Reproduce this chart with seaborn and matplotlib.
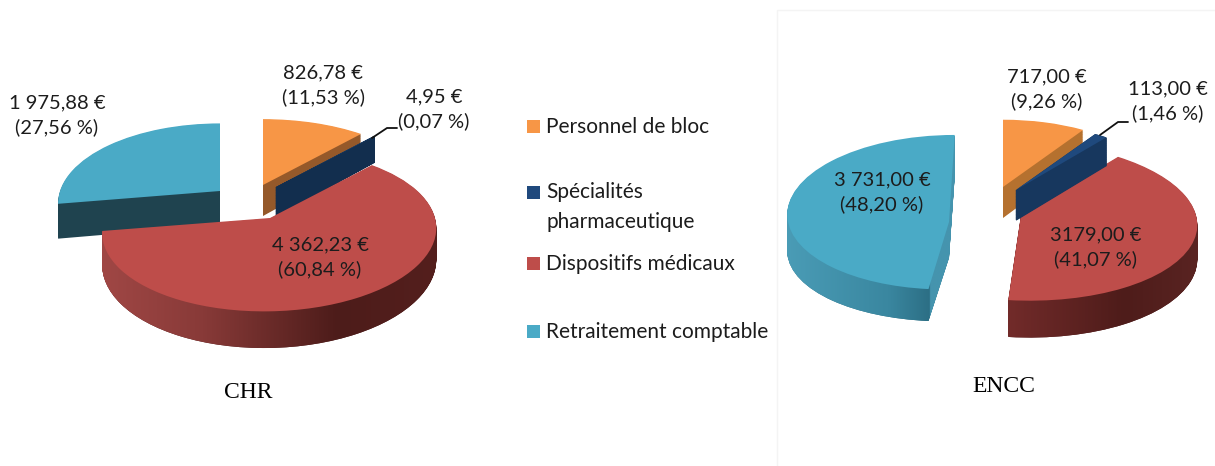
import numpy as np
import matplotlib
matplotlib.use('Agg')
import matplotlib.pyplot as plt
import seaborn as sns
from matplotlib.colors import LinearSegmentedColormap
from matplotlib.patches import Rectangle
from matplotlib.path import Path
from matplotlib.transforms import Affine2D, Transform

categories = ['Personnel de bloc', 'Spécialités\npharmaceutique',
              'Dispositifs médicaux', 'Retraitement comptable']
chr_values = [826.78, 4.95, 4362.23, 1975.88]
encc_values = [717.00, 113.00, 3179.00, 3731.00]
chr_labels = ['826,78 €\n(11,53 %)', '4,95 €\n(0,07 %)',
              '4 362,23 €\n(60,84 %)', '1 975,88 €\n(27,56 %)']
encc_labels = ['717,00 €\n(9,26 %)', '113,00 €\n(1,46 %)',
               '3179,00 €\n(41,07 %)', '3 731,00 €\n(48,20 %)']

sns.set_theme(style='white')
plt.rcParams['font.family'] = ['Lato', 'DejaVu Sans']
top_colors = sns.color_palette(['#f79646', '#1f497d', '#be4d4a', '#4aaac6'])
TEXT = '#1c1c1c'

# how each slice sits on the page: apex in pixels, a/c = half axes,
# b = perspective, s = skew, h = thickness, plus the paint order
chr_layout = {
    'apex': [(263, 185), (276, 187), (270, 218), (220, 191)],
    'a': [165, 165, 165, 160], 'c': [76, 76, 79, 78],
    'b': [.154, .154, .154, .154], 's': [0, 0, 5, 0], 'h': [31, 29, 31, 34],
    'order': [0, 2, 3, 1],
}
encc_layout = {
    'apex': [(1003, 187), (1016, 190), (1021, 215), (949, 222)],
    'a': [158, 155, 175, 161], 'c': [74, 72, 79, 76],
    'b': [.1, .09, .078, -.127], 's': [0, 0, -8, 5], 'h': [31, 30, 34, 36],
    'order': [0, 3, 2, 1],
}
chr_walls = ['#95592a', '#122e4e',
             [(0, '#a04745'), (.3, '#883a38'), (.7, '#4d1c1a'), (1, '#541f1d')],
             '#1f434f']
encc_walls = ['#b5712f', '#17375e',
              [(0, '#722b2a'), (.6, '#4e1c1a'), (1, '#5a2422')],
              [(0, '#4a9cb6'), (.6, '#3a87a0'), (.845, '#2c6f85'),
               (.85, '#4594ae'), (1, '#4594ae')]]


class Perspective(Transform):
    input_dims = output_dims = 2
    has_inverse = False

    def __init__(self, a, c, b, s, lift):
        super().__init__()
        self.a, self.c, self.b, self.s, self.lift = a, c, b, s, lift

    def transform_non_affine(self, values):
        x, y = values[:, 0], values[:, 1]
        w = 1 + self.b * y
        return np.column_stack([(self.a * x + self.s * y) / w,
                                (self.c * y - self.lift) / w])


def page_transform(layout, i, lift):
    px, py = layout['apex'][i]
    return (Perspective(layout['a'][i], layout['c'][i], layout['b'][i], layout['s'][i], lift)
            + Affine2D().scale(1, -1).translate(px, py))


def draw_pie(ax, values, layout, walls):
    n_layers = 40
    clip_paths = {i: [] for i in range(len(values))}
    wall_base = [w if isinstance(w, str) else w[len(w) // 2][1] for w in walls]
    flat = dict(linewidth=0, edgecolor='none')
    for k in range(n_layers, 0, -1):
        wedges, _ = ax.pie(values, startangle=90, counterclock=False,
                           colors=wall_base, wedgeprops=flat)
        for i, wedge in enumerate(wedges):
            tr = page_transform(layout, i, layout['h'][i] * k / n_layers)
            wedge.set_transform(tr + ax.transData)
            wedge.set_zorder(2 + layout['order'][i] + .001 * (n_layers - k))
            if i == 1:
                # the sliver is too thin to cover whole pixels by itself
                wedge.set_edgecolor(wall_base[i])
                wedge.set_linewidth(1)
            if not isinstance(walls[i], str):
                clip_paths[i].append(tr.transform_path(wedge.get_path()))
    wedges, _ = ax.pie(values, startangle=90, counterclock=False,
                       colors=top_colors, wedgeprops=flat)
    for i, wedge in enumerate(wedges):
        wedge.set_transform(page_transform(layout, i, 0) + ax.transData)
        wedge.set_zorder(2 + layout['order'][i] + .5)
    # shaded outer walls
    for i, paths in clip_paths.items():
        if not paths:
            continue
        all_pts = np.vstack([p.vertices for p in paths])
        x0, x1 = all_pts[:, 0].min(), all_pts[:, 0].max()
        y0, y1 = all_pts[:, 1].min(), all_pts[:, 1].max()
        cmap = LinearSegmentedColormap.from_list('wall', walls[i], N=512)
        im = ax.imshow(np.linspace(0, 1, 512)[None, :], cmap=cmap, aspect='auto',
                       extent=(x0, x1, y1, y0), zorder=2 + layout['order'][i] + .2)
        im.set_clip_path(Path.make_compound_path(*paths), ax.transData)


fig = plt.figure(figsize=(12.15, 4.66), dpi=100)
ax = fig.add_axes([0, 0, 1, 1])

draw_pie(ax, chr_values, chr_layout, chr_walls)
draw_pie(ax, encc_values, encc_layout, encc_walls)
ax.set_aspect('auto')
ax.set_xlim(0, 1215)
ax.set_ylim(466, 0)
ax.axis('off')

# faint frame of the pasted right-hand picture
ax.add_patch(Rectangle((777, 10), 450, 470, fc='none', ec='#f4f4f4', lw=1, zorder=1))

label_kw = dict(ha='center', va='center', fontsize=14.5, color=TEXT, linespacing=1.45, zorder=10)
for (x, y), s in zip([(323, 85), (434, 109), (320, 257), (57, 115)], chr_labels):
    ax.text(x, y, s, **label_kw)
for (x, y), s in zip([(1047, 89), (1168, 101), (1096, 247), (882, 192)], encc_labels):
    ax.text(x, y, s, **label_kw)

ax.plot([372, 387, 397], [138, 128, 128], color='#111111', lw=1.3, zorder=9)
ax.plot([1100, 1118, 1128], [135, 122, 122], color='#111111', lw=1.3, zorder=9)

for color, label, y in zip(top_colors, categories, [126, 192, 263, 331]):
    ax.add_patch(Rectangle((527, y - 6.5), 13, 13, color=color, lw=0, zorder=10))
    ax.text(546, y - 10 if '\n' in label else y + 1, label, ha='left',
            va='top' if '\n' in label else 'center', fontsize=15, color=TEXT,
            linespacing=1.62, zorder=10)

ax.text(248, 393, 'CHR', ha='center', va='center', fontsize=17,
        family='Liberation Serif', color='black')
ax.text(1004, 387, 'ENCC', ha='center', va='center', fontsize=17,
        family='Liberation Serif', color='black')

fig.savefig('out.png', dpi=100)
